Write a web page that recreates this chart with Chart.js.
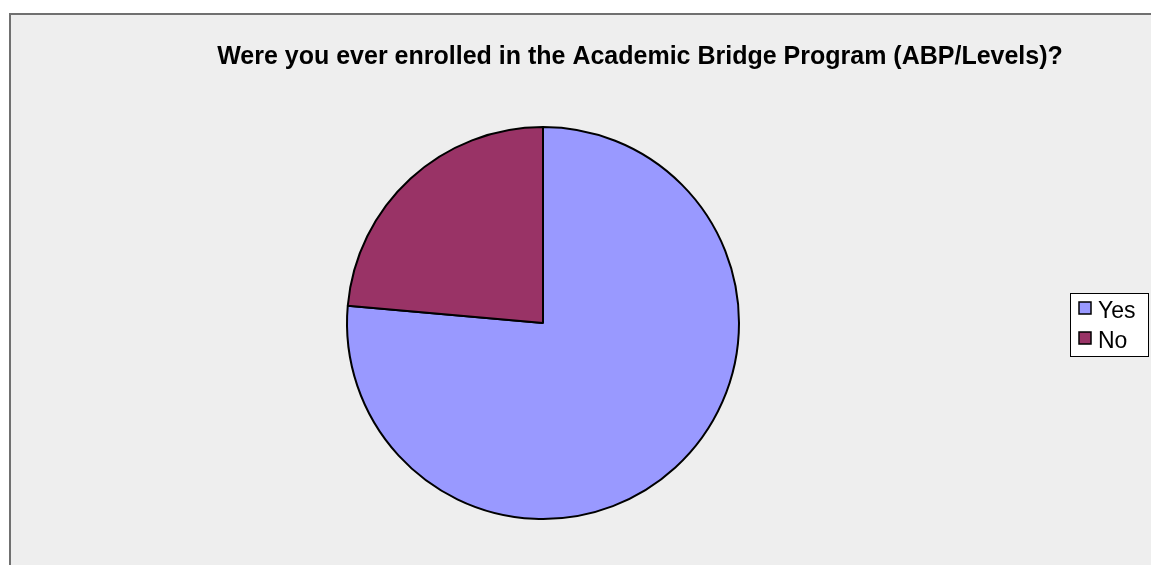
<!DOCTYPE html>
<html>
<head>
<meta charset="utf-8">
<script src="https://cdn.jsdelivr.net/npm/chart.js@4/dist/chart.umd.min.js"></script>
<style>
  html, body { margin: 0; padding: 0; width: 1151px; height: 565px; overflow: hidden; background: #ffffff; }
  #frame {
    position: absolute; left: 9px; top: 13px;
    border-left: 2px solid #707070; border-top: 2px solid #707070;
    background: #eeeeee; width: 1260px; height: 565px;
  }
  #chart { display: block; }
</style>
</head>
<body>
<div id="frame"><canvas id="chart" width="1260" height="565"></canvas></div>
<script>
const categories = ['Yes', 'No'];
const shares = [76.4, 23.6];
const sliceColors = ['#9999ff', '#993366'];
const titleText = 'Were you ever enrolled in the Academic Bridge Program (ABP/Levels)?';

// title is centred on the whole frame, not on the pie
const frameTitle = {
    id: 'frameTitle',
    afterDraw(chart) {
        const ctx = chart.ctx;
        ctx.save();
        ctx.font = 'bold 25px "Liberation Sans", Arial, sans-serif';
        ctx.fillStyle = '#000000';
        ctx.textAlign = 'center';
        ctx.textBaseline = 'alphabetic';
        ctx.fillText(titleText, 629, 49);
        ctx.restore();
    }
};

// boxed legend at the right, Excel style
const boxedLegend = {
    id: 'boxedLegend',
    afterDraw(chart) {
        const ctx = chart.ctx;
        const ds = chart.data.datasets[0];
        const x = 1059, y = 278, w = 78, h = 63;
        ctx.save();
        ctx.fillStyle = '#ffffff';
        ctx.fillRect(x, y, w, h);
        ctx.strokeStyle = '#000000';
        ctx.lineWidth = 1;
        ctx.strokeRect(x + 0.5, y + 0.5, w, h);
        ctx.font = '23px "Liberation Sans", Arial, sans-serif';
        ctx.textBaseline = 'alphabetic';
        chart.data.labels.forEach((label, i) => {
            const sy = y + 9 + i * 30;
            ctx.fillStyle = ds.backgroundColor[i];
            ctx.fillRect(x + 9, sy, 12, 12);
            ctx.lineWidth = 1.5;
            ctx.strokeRect(x + 9, sy, 12, 12);
            ctx.fillStyle = '#000000';
            ctx.fillText(label, x + 28, sy + 16);
        });
        ctx.restore();
    }
};

new Chart(document.getElementById('chart'), {
    type: 'pie',
    data: {
        labels: categories,
        datasets: [{
            data: shares,
            backgroundColor: sliceColors,
            borderColor: '#000000',
            borderWidth: 2
        }]
    },
    options: {
        responsive: false,
        animation: false,
        radius: 196,
        layout: { padding: { left: 0, right: 196, top: 51, bottom: 0 } },
        plugins: {
            legend: { display: false },
            tooltip: { enabled: false },
            title: { display: false }
        }
    },
    plugins: [frameTitle, boxedLegend]
});
</script>
</body>
</html>
